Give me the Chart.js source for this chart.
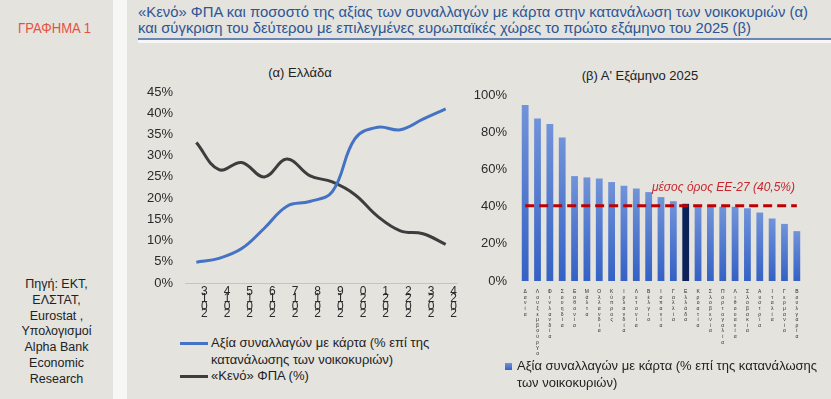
<!DOCTYPE html>
<html>
<head>
<meta charset="utf-8">
<script src="https://cdn.jsdelivr.net/npm/chart.js@4.4.0/dist/chart.umd.min.js"></script>
<style>
  body { margin: 0; width: 831px; height: 399px; overflow: hidden; background: #e4e3de;
         font-family: "Liberation Sans", Arial, sans-serif; color: #222; position: relative; }
  .abs { position: absolute; }
  .fit { display: inline-block; white-space: nowrap; transform-origin: 0 0; }
  #strip { left: 113px; top: 0; width: 14px; height: 399px; background: #f7f7f5; }
  #label { left: 18px; top: 20px; color: #e8503e; font-size: 14px; }
  #source { left: 0; width: 113px; top: 277px; text-align: center; font-size: 12.5px; line-height: 15.8px; color: #222; }
  #title { left: 138px; top: 4px; color: #2d5596; font-size: 15.5px; line-height: 16px; }
  #rule { left: 138px; top: 38px; width: 693px; height: 1.5px; background: #6b86b5; border-bottom: 3px solid #f7f7f5; }
  .sub { font-size: 13px; color: #222; text-align: center; }
  .leg { font-size: 13px; line-height: 16.5px; color: #222; }
  .swatch { position: absolute; height: 3px; width: 28px; }
</style>
</head>
<body>
<div id="strip" class="abs"></div>
<div id="label" class="abs"><span class="fit" data-w="73">ΓΡΑΦΗΜΑ 1</span></div>
<div id="source" class="abs">Πηγή: ΕΚΤ,<br>ΕΛΣΤΑΤ,<br>Eurostat ,<br>Υπολογισμοί<br>Alpha Bank<br>Economic<br>Research</div>
<div id="title" class="abs">
  <span class="fit" data-w="670">«Κενό» ΦΠΑ και ποσοστό της αξίας των συναλλαγών με κάρτα στην κατανάλωση των νοικοκυριών (α)</span><br>
  <span class="fit" data-w="613">και σύγκριση του δεύτερου με επιλεγμένες ευρωπαϊκές χώρες το πρώτο εξάμηνο του 2025 (β)</span>
</div>
<div id="rule" class="abs"></div>

<div class="abs sub" style="left:200px; top:65px; width:200px;">(α) Ελλάδα</div>
<div class="abs sub" style="left:540px; top:68px; width:200px;">(β) Α' Εξάμηνο 2025</div>

<div class="abs" style="left:130px; top:60px; width:335px; height:265px;"><canvas id="left"></canvas></div>
<div class="abs" style="left:470px; top:60px; width:350px; height:300px;"><canvas id="right"></canvas></div>

<div class="abs leg" style="left:180px; top:335px; width:290px;">
  <div class="swatch" style="left:0; top:7px; background:#4472c4;"></div>
  <div class="swatch" style="left:0; top:40px; background:#3d3d3d;"></div>
  <div style="margin-left:31px;">Αξία συναλλαγών με κάρτα (% επί της<br>κατανάλωσης των νοικοκυριών)<br>«Κενό» ΦΠΑ (%)</div>
</div>
<div class="abs leg" style="left:503px; top:358px; width:320px;">
  <div style="position:absolute; left:2px; top:5px; width:7px; height:7px; background:linear-gradient(#7393da,#3562c5);"></div>
  <div style="margin-left:14px;">Αξία συναλλαγών με κάρτα (% επί της κατανάλωσης<br>των νοικοκυριών)</div>
</div>

<script>
// (α) Ελλάδα, annual values
const years = ['2013', '2014', '2015', '2016', '2017', '2018', '2019', '2020', '2021', '2022', '2023', '2024'];
const cardShare = [4.9, 5.8, 8.1, 12.9, 18.1, 19.2, 21.5, 34.0, 36.7, 36.1, 38.6, 41.0];
const vatGap = [33.1, 26.7, 28.4, 25.0, 29.2, 25.3, 23.8, 20.8, 15.7, 12.3, 11.6, 9.1];

// (β) H1 2025, countries sorted by card share
const countries = ['Δανία', 'Λουξεμβούργο', 'Φινλανδία', 'Σουηδία', 'Εσθονία', 'Μάλτα', 'Ολλανδία', 'Κύπρος',
  'Ιρλανδία', 'Λετονία', 'Βέλγιο', 'Ισπανία', 'Γαλλία', 'Ελλάδα', 'Κροατία', 'Σλοβενία', 'Πορτογαλία',
  'Λιθουανία', 'Σλοβακία', 'Αυστρία', 'Ιταλία', 'Γερμανία', 'Βουλγαρία'];
const countryShare = [94.6, 87.3, 84.4, 77.2, 56.4, 55.7, 55.1, 53.2, 51.2, 49.7, 47.8, 45.1, 42.9,
  41.5, 40.4, 40.2, 39.9, 39.9, 39.1, 36.8, 33.6, 30.7, 26.8];
const euAverage = 40.5;

// squeeze the narrow headings to the width they take in the original
document.querySelectorAll('.fit').forEach(el => {
  el.style.transform = 'scaleX(' + (+el.dataset.w / el.getBoundingClientRect().width) + ')';
});

const font = { family: '"Liberation Sans", Arial, sans-serif', size: 13 };
Chart.defaults.color = '#2a2a2a';

new Chart(document.getElementById('left'), {
  type: 'line',
  data: {
    labels: years,
    datasets: [
      { label: 'card', data: cardShare, borderColor: '#4472c4', borderWidth: 3, tension: 0.4, pointRadius: 0 },
      { label: 'vat', data: vatGap, borderColor: '#3d3d3d', borderWidth: 3, tension: 0.4, pointRadius: 0 }
    ]
  },
  options: {
    animation: false,
    responsive: true,
    maintainAspectRatio: false,
    layout: { padding: { top: 32, right: 8 } },
    plugins: { legend: { display: false }, tooltip: { enabled: false } },
    scales: {
      x: {
        offset: true,
        grid: { drawOnChartArea: false, drawTicks: false },
        border: { color: '#c4c4c4' },
        afterFit: s => { s.height = 42; },
        ticks: {
          autoSkip: false, maxRotation: 0, padding: 5, labelOffset: 8,
          font: { family: font.family, size: 12, lineHeight: '7.4px' },
          callback: function (v) { return this.getLabelForValue(v).split('').reverse(); }
        }
      },
      y: {
        min: 0, max: 45,
        grid: { display: false, drawTicks: false },
        border: { display: false },
        afterFit: s => { s.width = 55; },
        ticks: { stepSize: 5, padding: 12, font: font, callback: v => v + '%' }
      }
    }
  }
});

function barFill(ctx) {
  const chart = ctx.chart;
  if (ctx.dataIndex === countries.indexOf('Ελλάδα')) return '#0c2359';
  if (!chart.chartArea || ctx.raw === undefined) return '#4f77cf';
  const y = chart.scales.y;
  const g = chart.ctx.createLinearGradient(0, y.getPixelForValue(ctx.raw), 0, y.getPixelForValue(0));
  g.addColorStop(0, '#7193d9');
  g.addColorStop(1, '#3461c4');
  return g;
}

const avgLabel = {
  id: 'avgLabel',
  afterDatasetsDraw(chart) {
    const c = chart.ctx, y = chart.scales.y.getPixelForValue(euAverage);
    c.save();
    c.font = 'italic 12px "Liberation Sans", Arial, sans-serif';
    c.fillStyle = '#c8262c';
    c.textAlign = 'right';
    c.fillText('μέσος όρος ΕΕ-27 (40,5%)', chart.chartArea.right - 8, y - 15);
    c.restore();
  }
};

new Chart(document.getElementById('right'), {
  type: 'bar',
  data: {
    labels: countries,
    datasets: [
      { type: 'line', label: 'avg', data: countries.map(() => euAverage), borderColor: '#c00000',
        borderWidth: 3, borderDash: [9, 5], pointRadius: 0, order: 0 },
      { label: 'share', data: countryShare, backgroundColor: barFill, barPercentage: 0.55,
        categoryPercentage: 1, order: 1 }
    ]
  },
  options: {
    animation: false,
    responsive: true,
    maintainAspectRatio: false,
    layout: { padding: { top: 35, right: 17 } },
    plugins: { legend: { display: false }, tooltip: { enabled: false } },
    scales: {
      x: {
        grid: { display: false, drawTicks: false },
        border: { display: false },
        afterFit: s => { s.height = 79; },
        ticks: {
          autoSkip: false, maxRotation: 0, padding: 8,
          font: { family: font.family, size: 5, lineHeight: '5.6px' },
          callback: function (v) { return this.getLabelForValue(v).split(''); }
        }
      },
      y: {
        min: 0, max: 100,
        grid: { display: false, drawTicks: false },
        border: { display: false },
        afterFit: s => { s.width = 49; },
        ticks: { stepSize: 20, padding: 12, font: font, callback: v => v + '%' }
      }
    }
  },
  plugins: [avgLabel]
});
</script>
</body>
</html>
